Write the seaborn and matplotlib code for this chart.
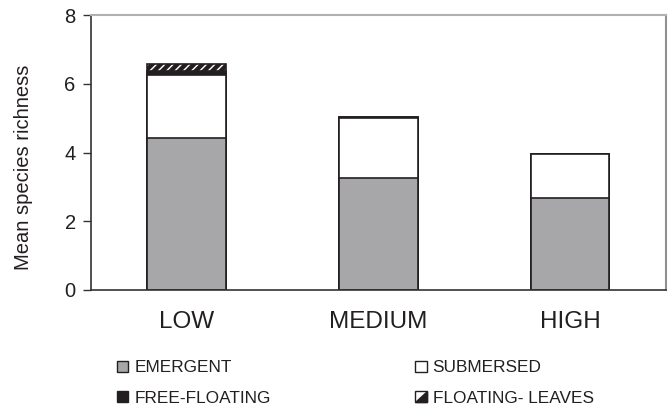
import matplotlib
matplotlib.use("Agg")
import matplotlib.pyplot as plt
import seaborn as sns
import numpy as np
import pandas as pd
from matplotlib.patches import Patch, Rectangle, Polygon
from matplotlib.legend_handler import HandlerPatch

categories = ["LOW", "MEDIUM", "HIGH"]
emergent = [4.43, 3.25, 2.67]
submersed = [1.82, 1.75, 1.30]
free_floating = [0.13, 0.04, 0.0]
floating_leaves = [0.19, 0.0, 0.0]
yticks = [0, 2, 4, 6, 8]

sns.set_theme(style="white")
plt.rcParams["font.family"] = ["Liberation Sans", "DejaVu Sans"]
plt.rcParams["hatch.linewidth"] = 3.2

edge = "#231f20"
gray = "#a7a7a9"

fig = plt.figure(figsize=(6.69, 4.07), dpi=100)
ax = fig.add_axes([0.136, 0.2875, 0.859, 0.6755])

c1 = np.array(emergent)
c2 = c1 + np.array(submersed)
c3 = c2 + np.array(free_floating)
c4 = c3 + np.array(floating_leaves)

layers = [
    (c4, "white", "////"),
    (c3, edge, None),
    (c2, "white", None),
    (c1, gray, None),
]
for vals, color, hatch in layers:
    df = pd.DataFrame({"cat": categories, "val": vals})
    sns.barplot(data=df, x="cat", y="val", order=categories, color=color,
                saturation=1, width=0.41, edgecolor=edge, linewidth=1.2,
                hatch=hatch, ax=ax, errorbar=None)

ax.set_ylim(0, 8)
ax.set_xlim(-0.5, 2.5)
ax.set_yticks(yticks)
ax.set_yticklabels([str(v) for v in yticks], fontsize=14.5, color="#231f20")
ax.set_xticklabels(categories, fontsize=17.5, color="#231f20")
ax.set_xlabel("")
ax.set_ylabel("Mean species richness", fontsize=14.5, color="#231f20")
ax.yaxis.set_label_coords(-0.101, 0.447)
ax.tick_params(axis="y", direction="out", length=6, width=1, color="#333333", left=True, pad=5)
ax.tick_params(axis="x", direction="in", length=6, width=1.5, color="#555555", bottom=True, pad=15)

for s in ["left", "bottom"]:
    ax.spines[s].set_color("#333333")
    ax.spines[s].set_linewidth(1.2)
for s in ["top", "right"]:
    ax.spines[s].set_color("#b0b0b0")
    ax.spines[s].set_linewidth(1.5)
ax.spines["right"].set_color("#909090")


class HalfHandler(HandlerPatch):
    def create_artists(self, legend, orig_handle, xdescent, ydescent, width, height, fontsize, trans):
        s = min(width, height)
        x0 = -xdescent
        y0 = -ydescent
        sq = Rectangle((x0, y0), s, s, facecolor="white", edgecolor=edge, lw=1, transform=trans)
        tri = Polygon([(x0, y0), (x0 + s, y0), (x0 + s, y0 + s)], closed=True,
                      facecolor=edge, edgecolor=edge, lw=1, transform=trans)
        return [sq, tri]


class SquareHandler(HandlerPatch):
    def create_artists(self, legend, orig_handle, xdescent, ydescent, width, height, fontsize, trans):
        s = min(width, height)
        sq = Rectangle((-xdescent, -ydescent), s, s, facecolor=orig_handle.get_facecolor(),
                       edgecolor=edge, lw=1, transform=trans)
        return [sq]


h_em = Patch(facecolor=gray, edgecolor=edge)
h_ff = Patch(facecolor=edge, edgecolor=edge)
h_sub = Patch(facecolor="white", edgecolor=edge)
h_fl = Patch(facecolor="white", edgecolor=edge, hatch="//")

handles = [h_em, h_ff, h_sub, h_fl]
labels = ["EMERGENT", "FREE-FLOATING", "SUBMERSED", "FLOATING- LEAVES"]
hmap = {h_em: SquareHandler(), h_ff: SquareHandler(), h_sub: SquareHandler(), h_fl: HalfHandler()}
leg = fig.legend(handles, labels, ncol=2, loc="upper left", bbox_to_anchor=(0.175, 0.115),
                 frameon=False, fontsize=12.4, handlelength=0.65, handleheight=0.65,
                 handletextpad=0.35, columnspacing=8.4, labelspacing=0.9,
                 handler_map=hmap, borderpad=0, borderaxespad=0)
for t in leg.get_texts():
    t.set_color("#231f20")

fig.savefig("out.png", dpi=100)
